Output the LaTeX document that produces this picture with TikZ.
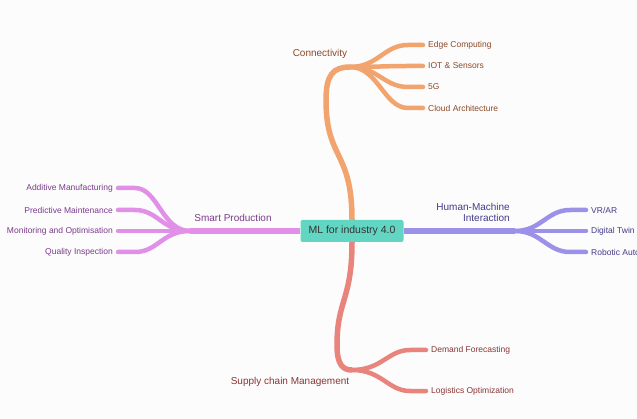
\documentclass[tikz,border=0pt]{standalone}
\usepackage{fontspec}
\setmainfont{Liberation Sans}
\definecolor{conC}{HTML}{F2A46E}
\definecolor{conT}{HTML}{8B4A28}
\definecolor{smC}{HTML}{E190E8}
\definecolor{smT}{HTML}{7B3B8C}
\definecolor{hmC}{HTML}{9C91E8}
\definecolor{hmT}{HTML}{433B8A}
\definecolor{scC}{HTML}{E9847D}
\definecolor{scT}{HTML}{8A3535}
\definecolor{mlC}{HTML}{62D6C2}
\tikzset{
 trunk/.style={line width=5.5pt},
 twig/.style={line width=4.5pt,line cap=round},
 leaf/.style={font=\fontsize{8.5}{10}\selectfont,inner sep=1pt},
 topic/.style={font=\fontsize{10}{11}\selectfont,inner sep=1pt,align=right},
}
\begin{document}
\begin{tikzpicture}[x=1pt,y=-1pt]
\fill[white!98!gray] (0,0) rectangle (637,419);
\useasboundingbox (0,0) rectangle (637,419);
%root
\node[fill=mlC,rounded corners=2pt,minimum width=103pt,minimum height=22pt,font=\fontsize{10.5}{12}\selectfont,text=black!80] (ml) at (352,231) {ML for industry 4.0};
\coordinate (jc) at (350,67);
\coordinate (js) at (190,231);
\coordinate (jh) at (515,231);
\coordinate (jq) at (352,370);
%trunks
\draw[trunk,conC] (ml.north) .. controls (352,150) and (326,160) .. (326,100) .. controls (326,75) and (333,67) .. (jc);
\draw[trunk,smC] (ml.west)--(js);
\draw[trunk,hmC] (ml.east)--(jh);
\draw[trunk,scC] (ml.south) .. controls (352,300) and (337,300) .. (337,345) .. controls (337,365) and (343,370) .. (jq);
%topics
\node[topic,text=conT] (con) at (320,54) {Connectivity};
\node[topic,text=smT] (sp) at (233,218) {Smart Production};
\node[topic,text=hmT,anchor=east] (hmi) at (511,212.5) {Human-Machine\\Interaction};
\node[topic,text=scT] (scm) at (290,382) {Supply chain Management};
%leaves
\foreach \n/\y/\t in {c1/45/Edge Computing,c2/66/IOT \& Sensors,c3/87/5G,c4/108/Cloud Architecture}{
 \node[leaf,text=conT,anchor=west] (\n) at (427,\y) {\t};
 \draw[twig,conC] (jc) .. controls (378,67) and (384,\y) .. (408,\y)--([xshift=-4pt]\n.west);
}
\foreach \n/\y/\t in {s1/188/Additive Manufacturing,s2/210/Predictive Maintenance,s3/231/Monitoring and Optimisation,s4/252/Quality Inspection}{
 \node[leaf,text=smT,anchor=east] (\n) at (114,\y) {\t};
 \draw[twig,smC] (js) .. controls (162,231) and (158,\y) .. (135,\y)--([xshift=4pt]\n.east);
}
\foreach \n/\y/\t in {h1/210/{VR/AR},h2/231/Digital Twin,h3/252/Robotic Automation}{
 \node[leaf,text=hmT,anchor=west] (\n) at (590,\y) {\t};
 \draw[twig,hmC] (jh) .. controls (541,231) and (547,\y) .. (570,\y)--([xshift=-4pt]\n.west);
}
\foreach \n/\y/\t in {q1/350/Demand Forecasting,q2/391/Logistics Optimization}{
 \node[leaf,text=scT,anchor=west] (\n) at (430,\y) {\t};
 \draw[twig,scC] (jq) .. controls (382,370) and (388,\y) .. (410,\y)--([xshift=-4pt]\n.west);
}
\end{tikzpicture}
\end{document}
